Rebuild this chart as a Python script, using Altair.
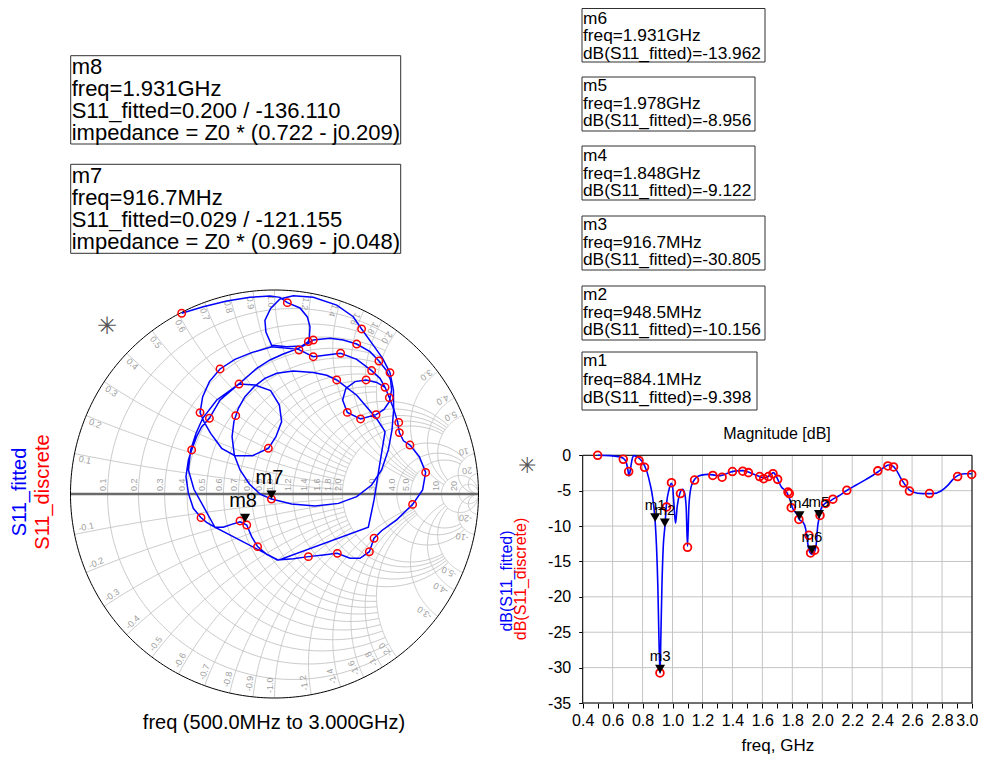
import numpy as np
import pandas as pd
import altair as alt

FONT = "Liberation Sans"
BLUE = "#0000ff"
RED = "#ff0000"
GRID = "#c4c4c4"
LBL = "#a0a0a0"

# ---------------- Magnitude [dB] data ----------------
fit_freq = [0.500,0.582,0.638,0.671,0.689,0.700,0.709,0.718,0.729,0.742,
            0.760,0.782,0.809,0.831,0.849,0.867,0.8841,0.893,0.902,0.909,
            0.9167,0.922,0.929,0.938,0.9485,0.960,0.976,0.991,1.000,1.009,
            1.020,1.031,1.049,1.067,1.080,1.091,1.100,1.109,1.122,1.138,
            1.160,1.193,1.238,1.282,1.316,1.349,1.382,1.427,1.471,1.507,
            1.538,1.582,1.609,1.638,1.660,1.675,1.693,1.727,1.760,1.782,
            1.804,1.830,1.848,1.871,1.889,1.900,1.911,1.931,1.949,1.960,
            1.969,1.978,1.993,2.016,2.049,2.071,2.116,2.164,2.227,2.293,
            2.371,2.416,2.444,2.471,2.493,2.520,2.544,2.571,2.604,2.671,
            2.738,2.793,2.838,2.871,2.904,2.949,2.998]
fit_db = [0.0,-0.05,-0.19,-0.42,-0.9,-1.84,-2.92,-2.08,-0.66,-0.05,
          -0.19,-0.52,-1.27,-2.45,-3.96,-5.94,-9.398,-12.9,-18.6,-25.7,
          -30.805,-25.7,-18.6,-12.9,-10.156,-6.8,-4.9,-3.96,-4.4,-6.8,
          -9.6,-7.26,-5.38,-4.8,-5.3,-7.3,-12.83,-7.3,-4.67,-3.73,
          -3.1,-2.8,-2.7,-2.8,-2.9,-2.7,-2.4,-2.2,-2.17,-2.36,
          -2.64,-3.0,-3.2,-3.0,-2.64,-2.45,-3.0,-4.48,-5.14,-6.13,
          -7.55,-8.3,-9.122,-9.43,-10.4,-12.0,-13.4,-13.962,-13.6,-12.5,
          -10.1,-8.956,-7.5,-6.84,-6.5,-6.2,-5.66,-4.95,-4.2,-3.4,
          -2.36,-1.65,-1.37,-1.5,-2.03,-3.07,-3.9,-4.7,-5.19,-5.42,
          -5.42,-5.05,-4.25,-3.44,-2.88,-2.6,-2.6]
disc_freq = [0.500,0.671,0.707,0.776,0.813,0.916,0.960,0.993,1.053,1.100,
             1.147,1.269,1.331,1.400,1.469,1.507,1.582,1.609,1.640,1.671,
             1.702,1.771,1.780,1.793,1.844,1.911,1.922,1.949,1.985,2.022,
             2.071,2.164,2.371,2.438,2.476,2.544,2.582,2.716,2.904,2.998]
disc_db = [0.0,-0.57,-2.3,-0.75,-1.7,-30.75,-7.3,-3.87,-5.4,-13.0,
           -3.5,-2.85,-3.1,-2.3,-2.25,-2.45,-3.0,-3.3,-3.0,-2.6,
           -3.4,-5.2,-5.4,-7.4,-9.06,-11.3,-13.8,-13.4,-8.5,-6.8,
           -6.2,-4.95,-2.2,-1.5,-1.65,-3.9,-5.05,-5.4,-3.0,-2.7]
mk_name = ["m1", "m2", "m3", "m4", "m5", "m6"]
mk_freq = [0.8841, 0.9485, 0.9167, 1.848, 1.978, 1.931]
mk_db = [-9.398, -10.156, -30.805, -9.122, -8.956, -13.962]

freq_ticks = [round(0.4 + 0.1 * i, 1) for i in range(27)]
freq_grid = [round(0.4 + 0.2 * i, 1) for i in range(14)]
db_ticks = [0, -5, -10, -15, -20, -25, -30, -35]

# ---------------- Smith chart data (reflection coefficient re / im) ----------------
fit1_re = [-0.455,-0.349,-0.234,-0.120,-0.022,0.027,0.063,0.125,0.161,0.174,
           0.171,0.166,0.133,0.060,-0.014,-0.042,-0.047,-0.019,0.027,0.092,
           0.190,0.305,0.386,0.427,0.484,0.530,0.566,0.583,0.584,0.576,
           0.558,0.525,0.476,0.403,0.313,0.199,0.084,-0.015,-0.071,-0.123,
           -0.169,-0.197,-0.208,-0.199,-0.177,-0.145,-0.100,-0.047,0.011,0.092,
           0.190,0.256,0.305]
fit1_im = [0.886,0.918,0.946,0.964,0.971,0.964,0.938,0.912,0.868,0.819,
           0.771,0.747,0.725,0.722,0.729,0.794,0.851,0.910,0.956,0.972,
           0.964,0.926,0.869,0.809,0.730,0.665,0.595,0.510,0.412,0.314,
           0.216,0.118,0.044,-0.013,-0.046,-0.059,-0.049,-0.025,0.000,0.049,
           0.118,0.191,0.281,0.355,0.420,0.477,0.526,0.567,0.592,0.603,
           0.596,0.582,0.559]
fit2_re = [0.305,0.403,0.501,0.542,0.514,0.488,0.460,0.019,-0.292,-0.395,
           -0.422,-0.411,-0.385,-0.352,-0.283,-0.174,-0.096,-0.019,0.024,0.035,
           0.007,-0.030,-0.107,-0.194,-0.259,-0.313,-0.346,-0.365,-0.352,-0.319,
           -0.267,-0.194,-0.112,-0.014,0.117,0.190,0.256,0.324,0.403,0.476,
           0.517,0.542,0.563,0.586,0.604,0.612,0.632,0.664,0.710,0.741,
           0.726,0.677,0.599,0.525,0.488,0.465,0.419,0.370,0.308,0.239,
           0.166,0.092,0.014,-0.038,-0.083,-0.112,-0.136,-0.169,-0.210,-0.251,
           -0.292,-0.333,-0.362,-0.398,-0.422,-0.434,-0.422,-0.406,-0.382,-0.357,
           -0.319,-0.267,-0.174,-0.087,-0.022,0.043,0.117,0.166,0.190,0.272,
           0.337,0.403,0.468,0.512,0.547,0.569,0.574,0.563,0.537,0.498,
           0.422,0.357,0.334,0.350,0.395,0.449,0.501,0.542,0.563]
fit2_im = [0.559,0.484,0.369,0.306,0.134,-0.029,-0.163,-0.324,-0.163,0.023,
           0.118,0.216,0.297,0.371,0.461,0.539,0.534,0.507,0.436,0.355,
           0.281,0.224,0.188,0.188,0.224,0.297,0.355,0.399,0.477,0.551,
           0.613,0.660,0.693,0.722,0.709,0.673,0.681,0.690,0.660,0.605,
           0.567,0.523,0.472,0.412,0.351,0.301,0.261,0.240,0.183,0.106,
           0.020,-0.051,-0.127,-0.180,-0.217,-0.283,-0.315,-0.315,-0.291,-0.299,
           -0.307,-0.317,-0.324,-0.296,-0.258,-0.209,-0.152,-0.136,-0.149,-0.163,
           -0.163,-0.139,-0.114,-0.070,0.003,0.085,0.167,0.216,0.281,0.330,
           0.371,0.461,0.539,0.616,0.657,0.686,0.714,0.739,0.755,0.763,
           0.755,0.735,0.698,0.652,0.608,0.559,0.510,0.453,0.415,0.389,
           0.368,0.400,0.461,0.518,0.551,0.559,0.547,0.523,0.472]
disc_re = [-0.455,0.063,0.427,0.166,0.190,0.403,0.120,0.190,0.324,0.512,
           0.476,0.566,-0.267,-0.174,0.305,0.449,0.542,0.563,-0.365,-0.319,
           -0.190,0.357,0.422,0.498,0.609,0.612,0.664,-0.406,-0.030,0.741,
           -0.015,0.677,-0.360,-0.169,-0.136,0.488,-0.083,0.465,0.166,0.308]
disc_im = [0.886,0.938,0.809,0.747,0.755,0.735,0.706,0.673,0.690,0.652,
           0.605,0.595,0.613,0.539,0.559,0.559,0.523,0.472,0.399,0.371,
           0.384,0.400,0.368,0.389,0.351,0.301,0.240,0.216,0.224,0.106,
           -0.025,-0.051,-0.116,-0.132,-0.152,-0.217,-0.258,-0.283,-0.307,-0.291]
smk_name = ["m7", "m8"]
smk_mag = [0.029, 0.200]
smk_ang = [-121.155, -136.110]

grid_vals = [0.1, 0.2, 0.3, 0.4, 0.5, 0.6, 0.7, 0.8, 0.9, 1.0,
             1.2, 1.4, 1.6, 1.8, 2.0, 3.0, 4.0, 5.0, 10.0, 20.0]

# ---------------- text ----------------
box_m8 = ["m8", "freq=1.931GHz", "S11_fitted=0.200 / -136.110", "impedance = Z0 * (0.722 - j0.209)"]
box_m7 = ["m7", "freq=916.7MHz", "S11_fitted=0.029 / -121.155", "impedance = Z0 * (0.969 - j0.048)"]
box_right = [
    ["m6", "freq=1.931GHz", "dB(S11_fitted)=-13.962"],
    ["m5", "freq=1.978GHz", "dB(S11_fitted)=-8.956"],
    ["m4", "freq=1.848GHz", "dB(S11_fitted)=-9.122"],
    ["m3", "freq=916.7MHz", "dB(S11_fitted)=-30.805"],
    ["m2", "freq=948.5MHz", "dB(S11_fitted)=-10.156"],
    ["m1", "freq=884.1MHz", "dB(S11_fitted)=-9.398"],
]

# ---------------- scales (single full-page view, two coordinate systems) ----------------
W, H = 970, 746
SX = alt.Scale(domain=[-1, 1], range=[62.5, 470.5], nice=False, zero=False)
SY = alt.Scale(domain=[-1, 1], range=[690, 282], nice=False, zero=False)
DX = alt.Scale(domain=[0.4, 3.0], range=[574.7, 964], nice=False, zero=False)
DY = alt.Scale(domain=[-35, 0], range=[695, 447.3], nice=False, zero=False)


def sx(f):
    return alt.X(f, type="quantitative", scale=SX, axis=None)


def sy(f):
    return alt.Y(f, type="quantitative", scale=SY, axis=None)


def dx(f, axis=None):
    return alt.X(f, type="quantitative", scale=DX, axis=axis)


def dy(f, axis=None):
    return alt.Y(f, type="quantitative", scale=DY, axis=axis)


# ---------------- Smith grid geometry ----------------
def limit(v):
    v = abs(v)
    if v <= 1.0:
        return 2.0
    if v <= 2.0:
        return 5.0
    if v <= 5.0:
        return 10.0
    return None


def r_curve(r, xmax, n=181):
    if xmax is None:
        phi = np.linspace(0, 2 * np.pi, n)
        c, rad = r / (1 + r), 1 / (1 + r)
        return c + rad * np.cos(phi), rad * np.sin(phi)
    u = np.linspace(-np.arctan(xmax), np.arctan(xmax), n)
    z = r + 1j * np.tan(u)
    g = (z - 1) / (z + 1)
    return g.real, g.imag


def x_curve(x, rmax, n=151):
    umax = np.arctan(rmax) if rmax is not None else np.pi / 2 - 1e-5
    u = np.linspace(0, umax, n)
    z = np.tan(u) + 1j * x
    g = (z - 1) / (z + 1)
    return g.real, g.imag


def fmt(v):
    return f"{v:.0f}" if abs(v) >= 10 else f"{v:.1f}"


rows = []
gid = 0
for r in grid_vals:
    a, b = r_curve(r, limit(r))
    rows += [(gid, k, p, q) for k, (p, q) in enumerate(zip(a, b))]
    gid += 1
for x in grid_vals:
    for s in (1, -1):
        a, b = x_curve(s * x, limit(x))
        rows += [(gid, k, p, q) for k, (p, q) in enumerate(zip(a, b))]
        gid += 1
grid_df = pd.DataFrame(rows, columns=["id", "k", "gr", "gi"])

phi = np.linspace(0, 2 * np.pi, 361)
circ_df = pd.DataFrame({"k": range(361), "gr": np.cos(phi), "gi": np.sin(phi)})
hax_df = pd.DataFrame({"gr": [-1.0, 1.0], "gi": [0.0, 0.0]})

rlab_df = pd.DataFrame({"gr": [(r - 1) / (r + 1) for r in grid_vals],
                        "gi": [0.015] * len(grid_vals),
                        "txt": [fmt(r) for r in grid_vals]})
xl = []
for x in grid_vals:
    for s in (1, -1):
        xv = s * x
        th = np.arctan2(2 * xv, xv * xv - 1)
        ang = (-(np.degrees(th) + 180.0)) % 360.0
        xl.append((0.975 * np.cos(th), 0.975 * np.sin(th), fmt(xv), ang, s))
xlab_df = pd.DataFrame(xl, columns=["gr", "gi", "txt", "ang", "sgn"])

# ---------------- data frames ----------------
fit_s = pd.DataFrame({
    "seg": ["a"] * len(fit1_re) + ["b"] * len(fit2_re),
    "k": list(range(len(fit1_re))) + list(range(len(fit2_re))),
    "gr": fit1_re + fit2_re, "gi": fit1_im + fit2_im})
disc_s = pd.DataFrame({"gr": disc_re, "gi": disc_im})
smk_df = pd.DataFrame({
    "name": smk_name,
    "gr": [m * np.cos(np.radians(a)) for m, a in zip(smk_mag, smk_ang)],
    "gi": [m * np.sin(np.radians(a)) for m, a in zip(smk_mag, smk_ang)]})

fit_d = pd.DataFrame({"freq": fit_freq, "db": fit_db})
disc_d = pd.DataFrame({"freq": disc_freq, "db": disc_db})
mk_df = pd.DataFrame({"name": mk_name, "freq": mk_freq, "db": mk_db})
vgrid = pd.DataFrame({"freq": freq_grid, "lo": -35, "hi": 0})
hgrid = pd.DataFrame({"db": db_ticks, "lo": 0.4, "hi": 3.0})
frame_df = pd.DataFrame({"f0": [0.4], "f1": [3.0], "d0": [-35], "d1": [0]})
one = pd.DataFrame({"a": [0]})

layers = []

# ---- Smith chart ----
layers.append(alt.Chart(grid_df).mark_line(color=GRID, strokeWidth=0.9).encode(
    x=sx("gr"), y=sy("gi"), detail="id:N", order="k:Q"))
layers.append(alt.Chart(hax_df).mark_line(color="#6a6a6a", strokeWidth=2.5).encode(
    x=sx("gr"), y=sy("gi")))
layers.append(alt.Chart(circ_df).mark_line(color="black", strokeWidth=1).encode(
    x=sx("gr"), y=sy("gi"), order="k:Q"))
layers.append(alt.Chart(rlab_df).mark_text(angle=270, align="left", baseline="bottom",
                                            fontSize=9, color=LBL, font=FONT).encode(
    x=sx("gr"), y=sy("gi"), text="txt:N"))
layers.append(alt.Chart(xlab_df).transform_filter("datum.sgn > 0").mark_text(
    align="left", baseline="top", fontSize=9, color=LBL, font=FONT).encode(
    x=sx("gr"), y=sy("gi"), text="txt:N", angle=alt.Angle("ang:Q", scale=None)))
layers.append(alt.Chart(xlab_df).transform_filter("datum.sgn < 0").mark_text(
    align="left", baseline="bottom", fontSize=9, color=LBL, font=FONT).encode(
    x=sx("gr"), y=sy("gi"), text="txt:N", angle=alt.Angle("ang:Q", scale=None)))
layers.append(alt.Chart(fit_s).mark_line(color=BLUE, strokeWidth=1.5).encode(
    x=sx("gr"), y=sy("gi"), detail="seg:N", order="k:Q"))
layers.append(alt.Chart(disc_s).mark_point(shape="circle", filled=False, color=RED,
                                           size=55, strokeWidth=1.5, opacity=1).encode(
    x=sx("gr"), y=sy("gi")))
layers.append(alt.Chart(smk_df).mark_point(shape="triangle-down", filled=True, color="black",
                                           size=100, yOffset=-4.3, opacity=1).encode(
    x=sx("gr"), y=sy("gi")))
layers.append(alt.Chart(smk_df).mark_text(fontSize=20, dy=-21, dx=-2, font=FONT,
                                          color="black").encode(
    x=sx("gr"), y=sy("gi"), text="name:N"))

# ---- Magnitude plot ----
layers.append(alt.Chart(vgrid).mark_rule(color=GRID, strokeWidth=1).encode(
    x=dx("freq"), y=dy("lo"), y2="hi"))
layers.append(alt.Chart(hgrid).mark_rule(color=GRID, strokeWidth=1).encode(
    x=dx("lo"), x2="hi", y=dy("db")))
layers.append(alt.Chart(frame_df).mark_rect(fillOpacity=0, stroke="black", strokeWidth=1).encode(
    x=dx("f0"), x2="f1", y=dy("d0"), y2="d1"))

last_lbl = "datum.value >= 2.95"
xaxis = alt.Axis(orient="bottom", offset=-(H - 695), values=freq_ticks,
                 labelExpr="(round(datum.value*10) % 2 == 0) ? format(datum.value, '.1f') : ''",
                 labelAlign={"condition": {"test": last_lbl, "value": "right"}, "value": "center"},
                 labelOffset={"condition": {"test": last_lbl, "value": 6}, "value": 0},
                 grid=False, domain=False, ticks=True, tickSize=5, tickColor="black",
                 labelFont=FONT, labelFontSize=16, labelColor="black", labelPadding=4,
                 labelFlush=False, labelOverlap=False,
                 title="freq, GHz", titleFont=FONT, titleFontSize=17, titleFontWeight="normal",
                 titleColor="black", titlePadding=9)
yaxis = alt.Axis(orient="left", offset=-574.7, values=db_ticks,
                 labelExpr="'' + datum.value",
                 grid=False, domain=False, ticks=True, tickSize=4, tickColor="black",
                 labelFont=FONT, labelFontSize=16, labelColor="black", labelPadding=8,
                 labelFlush=False, labelOverlap=False, title=None)
layers.append(alt.Chart(fit_d).mark_line(color=BLUE, strokeWidth=1.6, interpolate="monotone").encode(
    x=dx("freq", xaxis), y=dy("db", yaxis)))
layers.append(alt.Chart(disc_d).mark_point(shape="circle", filled=False, color=RED,
                                           size=60, strokeWidth=1.8, opacity=1).encode(
    x=dx("freq"), y=dy("db")))
layers.append(alt.Chart(mk_df).mark_point(shape="triangle-down", filled=True, color="black",
                                          size=100, yOffset=-4.3, opacity=1).encode(
    x=dx("freq"), y=dy("db")))
layers.append(alt.Chart(mk_df).mark_text(fontSize=15, dy=-17, font=FONT, color="black").encode(
    x=dx("freq"), y=dy("db"), text="name:N"))


# ---- annotations (boxes, legends, titles) ----
def box(x0, y0, x1, y1, lines, fs, lh, ty):
    rect = alt.Chart(one).mark_rect(fillOpacity=0, stroke="#303030", strokeWidth=1).encode(
        x=alt.value(x0), x2=alt.value(x1), y=alt.value(y0), y2=alt.value(y1))
    txt = alt.Chart(one).mark_text(align="left", baseline="middle", fontSize=fs, lineHeight=lh,
                                   font=FONT, color="black").encode(
        x=alt.value(x0 + 1), y=alt.value(ty), text=alt.value(lines))
    return [rect, txt]


# ty = centre of the first text line
layers += box(62.7, 47.7, 392.7, 136.0, box_m8, 22, 22, 58.7)
layers += box(62.7, 156.3, 392.7, 245.3, box_m7, 22, 22, 167.7)
right_geo = [(574, 0.5, 757, 54, 10.5, 17.5), (574, 69, 747, 123, 78.0, 17.5),
             (574, 138, 747, 192, 148.0, 17.5), (574, 208, 757, 262, 217.0, 17.5),
             (574, 278, 757, 332, 287.0, 17.5), (574, 344, 749, 402, 353.0, 18.5)]
for (x0, y0, x1, y1, ty, lh), lines in zip(right_geo, box_right):
    layers += box(x0, y0, x1, y1, lines, 17.3, lh, ty)


def label(txt, x, y, fs, color="black", angle=0):
    kw = dict(fontSize=fs, font=FONT, color=color, align="center", baseline="middle")
    if angle:
        kw["angle"] = angle
    return alt.Chart(one).mark_text(**kw).encode(x=alt.value(x), y=alt.value(y), text=alt.value(txt))


layers.append(label("S11_fitted", 12, 484, 20, BLUE, 270))
layers.append(label("S11_discrete", 35, 484, 20, RED, 270))
layers.append(label("dB(S11_fitted)", 499, 573, 16, BLUE, 270))
layers.append(label("dB(S11_discrete)", 513, 571, 16, RED, 270))
layers.append(label("Magnitude [dB]", 769, 426, 16))
layers.append(label("freq (500.0MHz to 3.000GHz)", 266, 715, 20))
layers.append(label("\u2733", 99, 319, 24, "#555555"))
layers.append(label("\u2733", 519, 458, 22, "#555555"))

chart = alt.layer(*layers).resolve_scale(x="independent", y="independent").properties(
    width=W, height=H, padding=0, background="white",
    autosize=alt.AutoSizeParams(type="none")).configure_view(stroke="transparent")

chart.save("out.html", embed_options={"renderer": "svg", "actions": False})
